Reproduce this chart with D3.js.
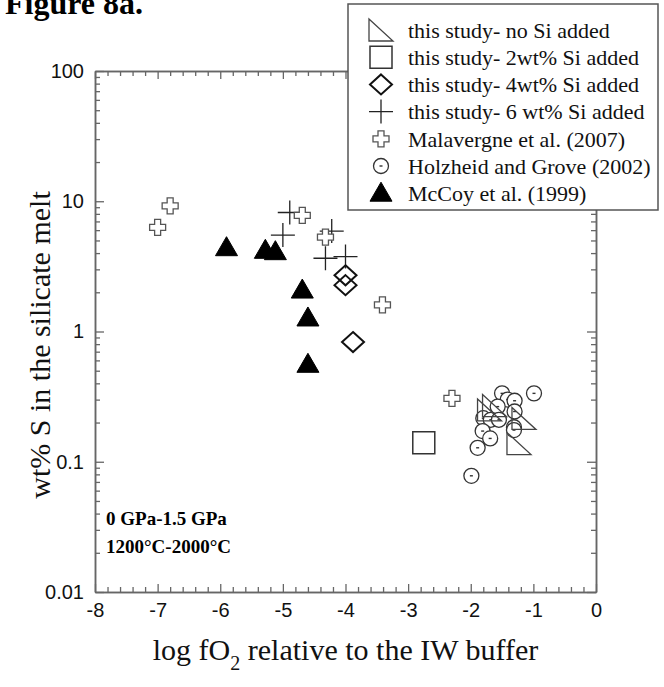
<!DOCTYPE html>
<html><head><meta charset="utf-8">
<script src="https://cdn.jsdelivr.net/npm/d3@7"></script>
<style>body{margin:0;background:#fff} svg{display:block}</style>
</head><body>
<script>
// ---- data: [log fO2 relative to IW, wt% S in silicate melt] ----
const noSi = [[-1.70,0.25],[-1.62,0.27],[-1.15,0.215],[-1.23,0.138]];
const si2 = [[-2.75,0.14]];
const si4 = [[-4.0,2.7],[-4.0,2.27],[-3.88,0.83]];
const si6 = [[-4.89,8.2],[-5.0,5.5],[-4.22,5.9],[-4.32,3.65],[-4.0,3.76]];
const malavergne = [[-7.0,6.3],[-6.8,9.2],[-4.69,7.8],[-4.32,5.3],[-3.41,1.6],[-2.30,0.307]];
const holzheid = [[-1.50,0.335],[-1.41,0.30],[-1.30,0.294],[-0.99,0.335],[-1.57,0.265],[-1.30,0.243],
  [-1.80,0.216],[-1.68,0.21],[-1.55,0.21],[-1.31,0.184],[-1.31,0.175],[-1.81,0.172],[-1.69,0.151],
  [-1.89,0.128],[-1.99,0.078]];
const mccoy = [[-5.9,4.4],[-5.28,4.2],[-5.12,4.1],[-4.69,2.08],[-4.6,1.27],[-4.6,0.56]];

const xTicks = [-8,-7,-6,-5,-4,-3,-2,-1,0];
const xTickLabels = ["-8","-7","-6","-5","-4","-3","-2","-1","0"];
const yTicks = [0.01,0.1,1,10,100];
const yTickLabels = ["0.01","0.1","1","10","100"];
const legendLabels = ["this study- no Si added","this study- 2wt% Si added","this study- 4wt% Si added",
  "this study- 6 wt% Si added","Malavergne et al. (2007)","Holzheid and Grove (2002)","McCoy et al. (1999)"];

const W = 664, H = 687;
const L = 95, R = 596, T = 71, B = 592;
const serif = "'Liberation Serif','Times New Roman',serif";
const sans = "'Liberation Sans',Arial,sans-serif";

const svg = d3.select("body").append("svg").attr("width", W).attr("height", H);
const x = d3.scaleLinear().domain([-8,0]).range([L,R]);
const y = d3.scaleLog().domain([0.01,100]).range([B,T]);

const xMinor = d3.range(-8,0.001,0.2).map(v=>+v.toFixed(1)).filter(v=>!xTicks.includes(v));
const yMinor = [];
[0.01,0.1,1,10].forEach(d=>{for(let k=2;k<=9;k++) yMinor.push(d*k);});

const axCol = "#666";
function styleAxis(g){
  g.selectAll("path.domain").attr("stroke", axCol).attr("stroke-width",1.5);
  g.selectAll(".tick line").attr("stroke", axCol).attr("stroke-width",1.3);
}
// bottom
svg.append("g").attr("transform",`translate(0,${B})`)
  .call(d3.axisBottom(x).tickValues(xTicks).tickSize(-8).tickSizeOuter(0).tickPadding(11)
    .tickFormat((d,i)=>xTickLabels[i]))
  .call(styleAxis)
  .call(g=>g.selectAll("text").attr("font-family",sans).attr("font-size",20).attr("fill","#111"));
svg.append("g").attr("transform",`translate(0,${B})`)
  .call(d3.axisBottom(x).tickValues(xMinor).tickSize(-5).tickSizeOuter(0).tickFormat(""))
  .call(styleAxis);
// top
svg.append("g").attr("transform",`translate(0,${T})`)
  .call(d3.axisTop(x).tickValues(xTicks).tickSize(-8).tickSizeOuter(0).tickFormat(""))
  .call(styleAxis);
svg.append("g").attr("transform",`translate(0,${T})`)
  .call(d3.axisTop(x).tickValues(xMinor).tickSize(-5).tickSizeOuter(0).tickFormat(""))
  .call(styleAxis);
// left
svg.append("g").attr("transform",`translate(${L},0)`)
  .call(d3.axisLeft(y).tickValues(yTicks).tickSize(-9).tickSizeOuter(0).tickPadding(11)
    .tickFormat((d,i)=>yTickLabels[i]))
  .call(styleAxis)
  .call(g=>g.selectAll("text").attr("font-family",sans).attr("font-size",20).attr("fill","#111"));
svg.append("g").attr("transform",`translate(${L},0)`)
  .call(d3.axisLeft(y).tickValues(yMinor).tickSize(-5).tickSizeOuter(0).tickFormat(""))
  .call(styleAxis);
// right
svg.append("g").attr("transform",`translate(${R},0)`)
  .call(d3.axisRight(y).tickValues(yTicks).tickSize(-9).tickSizeOuter(0).tickFormat(""))
  .call(styleAxis);
svg.append("g").attr("transform",`translate(${R},0)`)
  .call(d3.axisRight(y).tickValues(yMinor).tickSize(-5).tickSizeOuter(0).tickFormat(""))
  .call(styleAxis);

// ---- marker shapes ----
const shapes = {
  noSi: {d:"M-12,-11L-12,11L12,11Z", fill:"none", stroke:"#444", sw:1.3},
  si2: {d:"M-11,-11H11V11H-11Z", fill:"none", stroke:"#333", sw:1.5},
  si4: {d:"M0,-10L11,0L0,10L-11,0Z", fill:"none", stroke:"#111", sw:2},
  si6: {d:"M-12,0H12M0,-12V12", fill:"none", stroke:"#222", sw:1.3},
  mal: {d:"M-3,-8H3V-3H8V3H3V8H-3V3H-8V-3H-3Z", fill:"#fff", stroke:"#555", sw:1.3},
  hol: {circle:true, r:7.5, fill:"#fff", stroke:"#333", sw:1.3},
  mcc: {d:"M0,-11L11,8L-11,8Z", fill:"#000", stroke:"#000", sw:1}
};
function drawMarker(g, s){
  if(s.circle){
    g.append("circle").attr("r",s.r).attr("fill",s.fill).attr("stroke",s.stroke).attr("stroke-width",s.sw);
    g.append("path").attr("d","M-1.5,0H1.5").attr("stroke","#333").attr("stroke-width",1.4);
  } else {
    g.append("path").attr("d",s.d).attr("fill",s.fill).attr("stroke",s.stroke).attr("stroke-width",s.sw);
  }
}
const series = [
  [noSi,"noSi"],[si2,"si2"],[si4,"si4"],[si6,"si6"],[malavergne,"mal"],[holzheid,"hol"],[mccoy,"mcc"]
];
const drawOrder = [[holzheid,"hol"],[noSi,"noSi"],[si2,"si2"],[si6,"si6"],[malavergne,"mal"],[si4,"si4"],[mccoy,"mcc"]];
drawOrder.forEach(([data,key])=>{
  svg.append("g").selectAll("g").data(data).join("g")
    .attr("transform",d=>`translate(${x(d[0])},${y(d[1])})`)
    .each(function(){ drawMarker(d3.select(this), shapes[key]); });
});

// ---- annotation ----
svg.append("text").attr("x",106).attr("y",525).attr("font-family",serif).attr("font-weight","bold")
  .attr("font-size",19).text("0 GPa-1.5 GPa");
svg.append("text").attr("x",106).attr("y",553).attr("font-family",serif).attr("font-weight","bold")
  .attr("font-size",19).text("1200°C-2000°C");

// ---- legend ----
const lg = svg.append("g");
lg.append("rect").attr("x",348).attr("y",4).attr("width",310).attr("height",206)
  .attr("fill","#fff").attr("stroke","#555").attr("stroke-width",1.5);
series.forEach(([data,key],i)=>{
  const yy = 30 + i*27.2;
  const g = lg.append("g").attr("transform",`translate(381,${yy})`);
  drawMarker(g, shapes[key]);
  lg.append("text").attr("x",408).attr("y",yy).attr("dy","0.35em").attr("font-family",serif)
    .attr("font-size",22).attr("fill","#111").text(legendLabels[i]);
});

// ---- titles ----
svg.append("text").attr("x",5).attr("y",14).attr("font-family",serif).attr("font-weight","bold")
  .attr("font-size",32).text("Figure 8a.");
const xt = svg.append("text").attr("x",(L+R)/2).attr("y",660).attr("text-anchor","middle")
  .attr("font-family",serif).attr("font-size",30).attr("fill","#111");
xt.append("tspan").text("log fO");
xt.append("tspan").attr("font-size",20).attr("dy",10).text("2");
xt.append("tspan").attr("dy",-10).text(" relative to the IW buffer");
svg.append("text").attr("transform","translate(50,345) rotate(-90)").attr("text-anchor","middle")
  .attr("font-family",serif).attr("font-size",30).attr("fill","#111").text("wt% S in the silicate melt");
</script>
</body></html>
